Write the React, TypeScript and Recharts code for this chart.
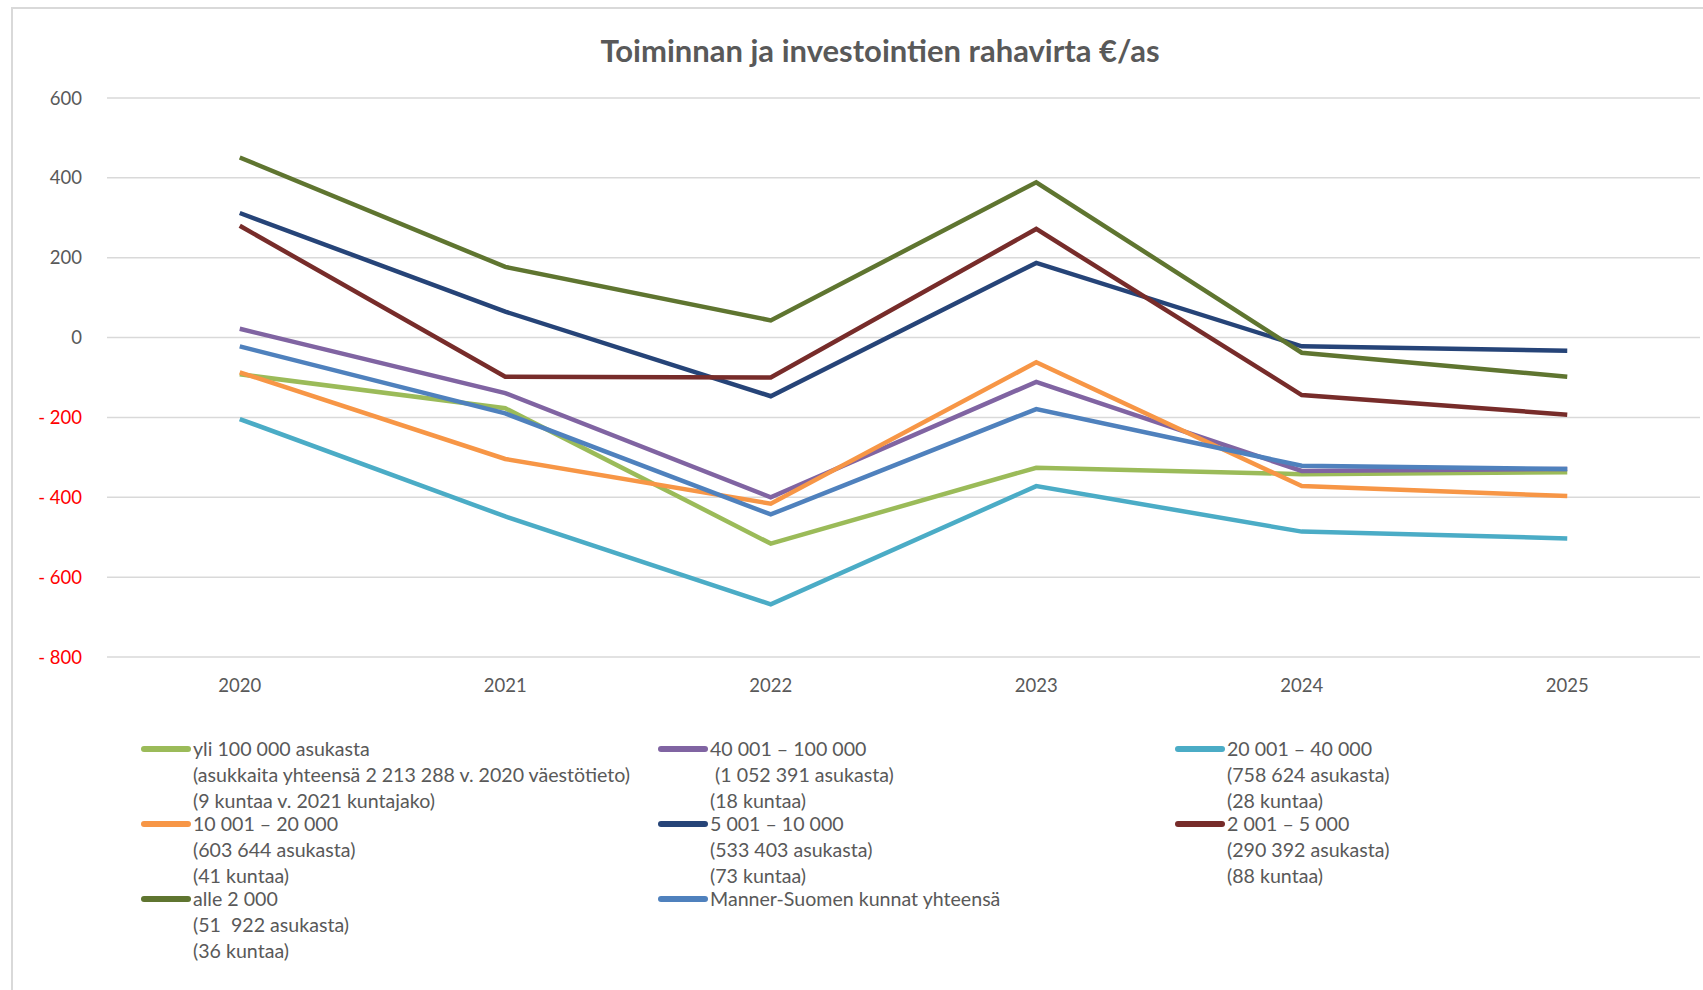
import { CartesianGrid, Line, LineChart, XAxis, YAxis } from 'recharts'

const years = ['2020', '2021', '2022', '2023', '2024', '2025']
const yTicks = [-800, -600, -400, -200, 0, 200, 400, 600]

// €/as per size group
const yli100k = [-92, -177, -516, -326, -342, -337]
const v40to100k = [22, -139, -400, -111, -334, -329]
const v20to40k = [-204, -448, -668, -372, -486, -503]
const v10to20k = [-87, -304, -416, -62, -372, -397]
const v5to10k = [312, 65, -147, 187, -22, -33]
const v2to5k = [280, -98, -100, 272, -144, -193]
const alle2k = [451, 177, 43, 389, -38, -98]
const mannerSuomi = [-22, -190, -443, -179, -321, -329]

const series = [
  { key: 'yli100k', values: yli100k, color: '#9bbb59', lines: ['yli 100 000 asukasta', '(asukkaita yhteensä 2 213 288 v. 2020 väestötieto)', '(9 kuntaa v. 2021 kuntajako)'] },
  { key: 'v40to100k', values: v40to100k, color: '#8064a2', lines: ['40 001 – 100 000', ' (1 052 391 asukasta)', '(18 kuntaa)'] },
  { key: 'v20to40k', values: v20to40k, color: '#4bacc6', lines: ['20 001 – 40 000', '(758 624 asukasta)', '(28 kuntaa)'] },
  { key: 'v10to20k', values: v10to20k, color: '#f79646', lines: ['10 001 – 20 000', '(603 644 asukasta)', '(41 kuntaa)'] },
  { key: 'v5to10k', values: v5to10k, color: '#264478', lines: ['5 001 – 10 000', '(533 403 asukasta)', '(73 kuntaa)'] },
  { key: 'v2to5k', values: v2to5k, color: '#772c2a', lines: ['2 001 – 5 000', '(290 392 asukasta)', '(88 kuntaa)'] },
  { key: 'alle2k', values: alle2k, color: '#5f7530', lines: ['alle 2 000', '(51  922 asukasta)', '(36 kuntaa)'] },
  { key: 'mannerSuomi', values: mannerSuomi, color: '#4f81bd', lines: ['Manner-Suomen kunnat yhteensä'] },
]

const chartData = years.map((year, i) => {
  const row: Record<string, string | number> = { year }
  series.forEach((s) => { row[s.key] = s.values[i] })
  return row
})

const FONT = 'Lato, "Open Sans", sans-serif'
const GRAY = '#595959'

const legendCols = [141, 658, 1175]
const legendRows = [749, 824, 899]
const LINE_H = 26

const YTick = (props: any) => {
  const { x, y, payload } = props
  const v = payload.value as number
  const label = v < 0 ? `- ${Math.abs(v)}` : `${v}`
  return (
    <text x={x} y={y + 6.5} textAnchor="end" fill={v < 0 ? '#ff0000' : GRAY} fontSize={18.5} fontFamily={FONT}>
      {label}
    </text>
  )
}

const XTick = (props: any) => {
  const { x, y, payload } = props
  return (
    <text x={x} y={y + 35} textAnchor="middle" fill={GRAY} fontSize={18.5} fontFamily={FONT}>
      {payload.value}
    </text>
  )
}

export default function App() {
  return (
    <div style={{ position: 'absolute', left: 0, top: 0, width: 1703, height: 990, background: '#fff', overflow: 'hidden', fontFamily: FONT }}>
      <div style={{ position: 'absolute', left: 11, top: 7, width: 1703, height: 990, borderTop: '2px solid #d9d9d9', borderLeft: '2px solid #d9d9d9' }} />
      <div style={{ position: 'absolute', left: 57, top: 30, width: 1646, textAlign: 'center', fontSize: 31, fontWeight: 700, color: GRAY, lineHeight: '40px' }}>
        Toiminnan ja investointien rahavirta €/as
      </div>

      <div style={{ position: 'absolute', left: 0, top: 0 }}>
        <LineChart width={1703} height={990} data={chartData} margin={{ top: 98, right: 3, left: 7, bottom: 303 }}>
          <CartesianGrid stroke="#d9d9d9" strokeWidth={1.5} vertical={false} />
          <XAxis
            dataKey="year"
            height={30}
            axisLine={false}
            tickLine={false}
            tickSize={0}
            tickMargin={0}
            padding={{ left: 132.75, right: 132.75 }}
            tick={<XTick />}
            interval={0}
          />
          <YAxis
            width={100}
            domain={[-800, 600]}
            ticks={yTicks}
            axisLine={false}
            tickLine={false}
            tickSize={0}
            tickMargin={25}
            tick={<YTick />}
            interval={0}
          />
          {series.map((s) => (
            <Line
              key={s.key}
              type="linear"
              dataKey={s.key}
              stroke={s.color}
              strokeWidth={4.5}
              dot={false}
              activeDot={false}
              isAnimationActive={false}
            />
          ))}
        </LineChart>
      </div>

      {series.map((s, i) => {
        const left = legendCols[i % 3]
        const top = legendRows[Math.floor(i / 3)]
        return (
          <div key={s.key} style={{ position: 'absolute', left, top: top - LINE_H / 2 }}>
            <svg width={52} height={10} style={{ position: 'absolute', left: -1, top: LINE_H / 2 - 5 }}>
              <line x1={4} y1={5} x2={48} y2={5} stroke={s.color} strokeWidth={6} strokeLinecap="round" />
            </svg>
            <div style={{ position: 'absolute', left: 52, top: 0, whiteSpace: 'pre', fontSize: 19.6, lineHeight: `${LINE_H}px`, color: GRAY }}>
              {s.lines.map((t, j) => (
                <div key={j}>{t}</div>
              ))}
            </div>
          </div>
        )
      })}
    </div>
  )
}
